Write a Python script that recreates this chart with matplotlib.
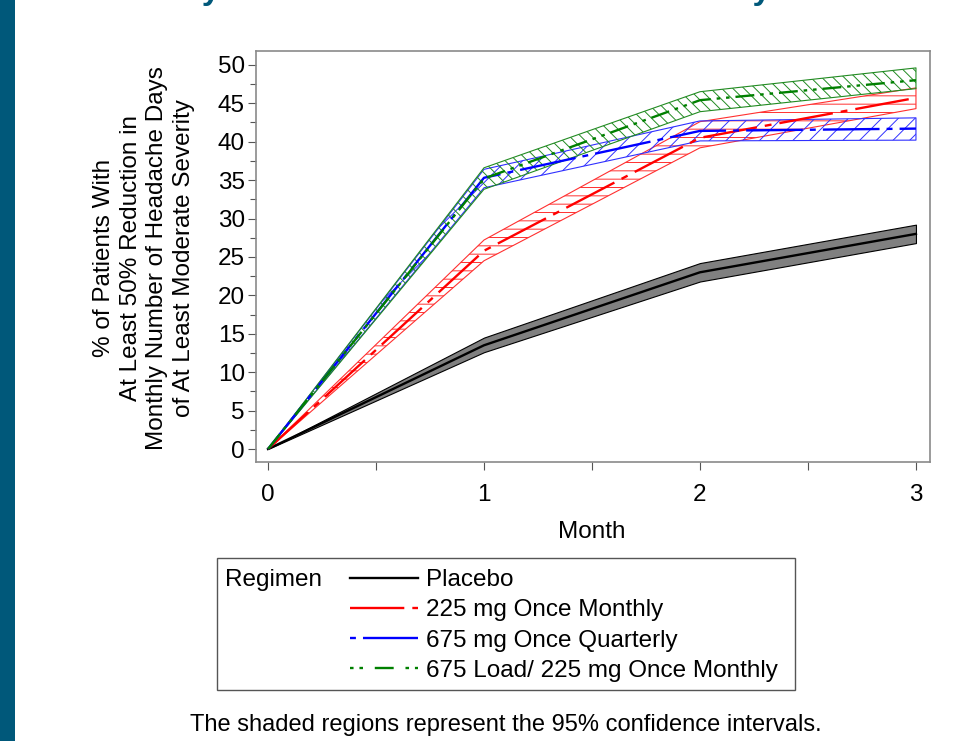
import matplotlib
matplotlib.use("Agg")
import matplotlib.pyplot as plt
from matplotlib.lines import Line2D
from matplotlib.patches import Rectangle

plt.rcParams['font.family'] = ['Liberation Sans', 'DejaVu Sans']
plt.rcParams['hatch.linewidth'] = 0.7

months = [0, 1, 2, 3]

# % of patients with >=50% reduction, with 95% CI bounds
placebo = [0, 13.5, 23.0, 28.0]
placebo_lo = [0, 12.6, 21.8, 26.8]
placebo_hi = [0, 14.5, 24.2, 29.2]

m225 = [0, 25.8, 40.5, 45.7]
m225_lo = [0, 24.5, 39.2, 44.3]
m225_hi = [0, 27.2, 42.6, 47.0]

q675 = [0, 35.3, 41.4, 41.7]
q675_lo = [0, 34.0, 40.1, 40.2]
q675_hi = [0, 36.4, 42.7, 43.1]

load675 = [0, 35.2, 45.4, 48.0]
load675_lo = [0, 33.8, 43.9, 46.9]
load675_hi = [0, 36.6, 46.5, 49.6]

labels = ['Placebo', '225 mg Once Monthly', '675 mg Once Quarterly',
          '675 Load/ 225 mg Once Monthly']

teal = '#00587a'
fs = 17.5

fig = plt.figure(figsize=(9.56, 7.41), dpi=100)
ax = fig.add_axes([256/956, 1-462/741, 674/956, 411/741])

# confidence bands
ax.fill_between(months, placebo_lo, placebo_hi, facecolor='#808080', edgecolor='black', linewidth=0.8)
ax.fill_between(months, m225_lo, m225_hi, facecolor='none', edgecolor='#ff3030', hatch='--', linewidth=0.8)
ax.fill_between(months, q675_lo, q675_hi, facecolor='none', edgecolor='#3030ff', hatch='//', linewidth=0.8)
ax.fill_between(months, load675_lo, load675_hi, facecolor='none', edgecolor='#228b22', hatch='\\\\\\', linewidth=0.8)

# mean lines
ls_red = (0, (23, 3.4, 2.9, 3.4))
ls_blue = (0, (24, 3, 2.5, 3))
ls_green = (0, (8, 2.5, 1.5, 2.5, 1.5, 2.5))
ax.plot(months, placebo, color='black', lw=1.7)
ax.plot(months, m225, color='red', lw=1.7, linestyle=ls_red)
ax.plot(months, q675, color='blue', lw=1.7, linestyle=ls_blue)
ax.plot(months, load675, color='green', lw=1.7, linestyle=ls_green)

ax.set_xlim(-0.0556, 3.065)
ax.set_ylim(-1.69, 51.8)
ax.set_xticks([0, 1, 2, 3])
ax.set_xticks([0.5, 1.5, 2.5], minor=True)
ax.set_yticks(range(0, 51, 5))
ax.set_yticks([2.5 + 5*i for i in range(10)], minor=True)
ax.tick_params(axis='both', which='both', direction='out', length=6, width=0.8,
               colors='#555555', labelcolor='black', labelsize=fs)
ax.tick_params(axis='x', which='major', pad=10)
ax.tick_params(axis='y', which='major', pad=2)
ax.tick_params(axis='y', which='minor', length=4)
for s in ax.spines.values():
    s.set_color('#8a8a8a')
    s.set_linewidth(1.2)

ax.set_xlabel('Month', fontsize=fs)
ax.xaxis.set_label_coords(0.4985, -0.143)

fig.text(144/956, 1-258/741,
         '% of Patients With\nAt Least 50% Reduction in\nMonthly Number of Headache Days\nof At Least Moderate Severity',
         rotation=90, ha='center', va='center', multialignment='center',
         fontsize=fs, linespacing=1.28)

# legend
handles = [Line2D([], [], color='black', lw=1.7),
           Line2D([], [], color='red', lw=1.7, linestyle=ls_red),
           Line2D([], [], color='blue', lw=1.7, linestyle=(0, (2.5, 3, 24, 3))),
           Line2D([], [], color='green', lw=1.7, linestyle=(0, (1.5, 2.5, 1.5, 5, 8, 5)))]
fig.add_artist(Rectangle((217/956, 1-690/741), 578/956, 132/741, transform=fig.transFigure,
                         facecolor='white', edgecolor='#555555', linewidth=1))
fig.legend(handles, labels, loc='upper left', bbox_to_anchor=(350/956, 1-569/741),
           frameon=False, fontsize=fs, handlelength=2.8, handletextpad=0.33,
           labelspacing=0.34, borderpad=0, borderaxespad=0)
fig.text(225/956, 1-580/741, 'Regimen', fontsize=fs, ha='left', va='center')

fig.text(506/956, 1-725/741, 'The shaded regions represent the 95% confidence intervals.',
         fontsize=17, ha='center', va='center')

# cut-off slide title and side bar
fig.text(92/956, 1+1/741, 'Monthly Moderate to Severe Headache days at each Month',
         fontsize=24, fontweight='bold', color=teal, ha='left', va='baseline')
fig.add_artist(Rectangle((0, 0), 15/956, 1, transform=fig.transFigure,
                         facecolor=teal, edgecolor='none'))

plt.savefig('out.png', dpi=100)
